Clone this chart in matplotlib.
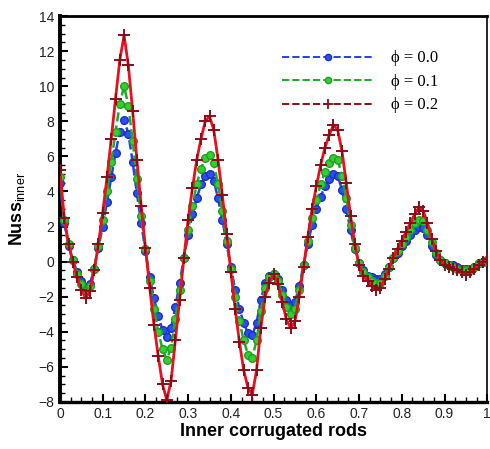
import numpy as np
import matplotlib.pyplot as plt
from matplotlib.ticker import MultipleLocator, AutoMinorLocator

plt.rcParams["font.family"] = ["Liberation Sans", "DejaVu Sans"]
plt.rcParams["mathtext.fontset"] = "custom"
plt.rcParams["mathtext.rm"] = "Liberation Sans"
plt.rcParams["mathtext.bf"] = "Liberation Sans:bold"

# position along the rods, step 0.01
x = [round(i * 0.01, 2) for i in range(101)]

nuss_00 = [4.5, 2.2, 0.9, 0.1, -0.6, -1.1, -1.5, -1.3, -0.4, 0.8,
           2.0, 3.4, 4.8, 6.2, 7.4, 8.1, 7.3, 5.7, 3.9, 2.2,
           0.6, -0.9, -2.1, -3.1, -3.9, -4.3, -3.8, -2.6, -1.2, 0.2,
           1.5, 2.7, 3.6, 4.4, 4.9, 5.0, 4.6, 3.6, 2.4, 1.0,
           -0.3, -1.6, -2.7, -3.5, -4.1, -4.2, -3.5, -2.2, -1.2, -0.8,
           -0.7, -1.0, -1.6, -2.2, -2.5, -2.3, -1.4, -0.2, 1.0, 2.1,
           3.0, 3.7, 4.3, 4.7, 5.0, 4.9, 4.1, 3.0, 1.8, 0.7,
           -0.1, -0.5, -0.8, -0.9, -1.0, -1.0, -0.7, -0.3, 0.2, 0.5,
           0.9, 1.2, 1.5, 1.8, 2.0, 1.9, 1.5, 0.9, 0.4, 0.1,
           -0.1, -0.2, -0.2, -0.3, -0.4, -0.4, -0.4, -0.3, -0.1, 0.0,
           0.1]

nuss_01 = [4.8, 2.4, 1.0, 0.1, -0.7, -1.3, -1.7, -1.4, -0.4, 0.9,
           2.4, 4.0, 5.7, 7.4, 9.0, 10.0, 8.9, 6.9, 4.7, 2.6,
           0.7, -1.1, -2.7, -4.0, -5.0, -5.6, -4.9, -3.3, -1.6, 0.2,
           1.8, 3.2, 4.4, 5.3, 5.9, 6.1, 5.6, 4.4, 2.9, 1.2,
           -0.4, -2.0, -3.4, -4.5, -5.3, -5.5, -4.5, -2.8, -1.5, -0.9,
           -0.7, -1.1, -1.9, -2.6, -3.0, -2.7, -1.6, -0.2, 1.2, 2.5,
           3.5, 4.4, 5.1, 5.6, 5.9, 5.8, 4.9, 3.6, 2.1, 0.8,
           -0.1, -0.6, -0.9, -1.1, -1.2, -1.2, -0.8, -0.3, 0.2, 0.6,
           1.0, 1.4, 1.8, 2.2, 2.4, 2.3, 1.8, 1.1, 0.5, 0.1,
           -0.1, -0.2, -0.3, -0.4, -0.5, -0.5, -0.5, -0.3, -0.1, 0.0,
           0.1]

nuss_02 = [5.2, 2.5, 1.0, 0.0, -0.9, -1.6, -2.1, -1.7, -0.5, 1.0,
           2.8, 4.8, 7.0, 9.3, 11.5, 12.9, 11.2, 8.6, 5.8, 3.2,
           0.8, -1.5, -3.6, -5.4, -7.0, -7.9, -6.8, -4.5, -2.2, 0.2,
           2.4, 4.2, 5.8, 7.0, 8.0, 8.3, 7.5, 5.8, 3.8, 1.6,
           -0.6, -2.7, -4.6, -6.2, -7.2, -7.6, -6.2, -3.8, -2.0, -1.2,
           -0.7, -1.3, -2.3, -3.3, -3.8, -3.4, -2.0, -0.3, 1.4, 3.0,
           4.3, 5.5, 6.5, 7.2, 7.8, 7.5, 6.3, 4.5, 2.6, 1.0,
           -0.2, -0.8, -1.1, -1.4, -1.6, -1.5, -1.0, -0.4, 0.2, 0.7,
           1.2, 1.7, 2.2, 2.7, 3.1, 2.9, 2.2, 1.3, 0.6, 0.1,
           -0.2, -0.3, -0.4, -0.5, -0.6, -0.75, -0.6, -0.4, -0.2, 0.0,
           0.15]

labels = ["\u03d5 = 0.0", "\u03d5 = 0.1", "\u03d5 = 0.2"]


def plotDraw():
    fig = plt.figure(figsize=(4.9, 4.49), dpi=100)
    ax = fig.add_axes([0.1224, 0.105, 0.872, 0.859])

    ax.plot(x, nuss_00, color="#2a3fe0", ls="--", lw=1.8, marker="o",
            ms=5.5, mfc="#2a50f0", mec="#1a30c0", zorder=3)
    ax.plot(x, nuss_01, color="#1faa2a", ls="--", lw=1.8, marker="o",
            ms=5.5, mfc="#30d030", mec="#20a020", zorder=4)
    ax.plot(x, nuss_02, color="#e8101e", ls="-", lw=2.0, marker="+",
            ms=8, mew=1.4, mec="#8a0d1a", zorder=5)

    # legend drawn with dashed lines and a single marker in the middle
    h0, = ax.plot([], [], color="#2a3fe0", ls="--", lw=1.4, marker="o",
                  ms=4.5, mfc="#2a50f0", mec="#1a30c0")
    h1, = ax.plot([], [], color="#1faa2a", ls="--", lw=1.4, marker="o",
                  ms=4.5, mfc="#30d030", mec="#20a020")
    h2, = ax.plot([], [], color="#8a0d1a", ls="--", lw=1.4, marker="+",
                  ms=7, mew=1.3, mec="#8a0d1a")
    ax.legend([h0, h1, h2], labels, loc="upper right",
              bbox_to_anchor=(0.92, 0.95), frameon=False, numpoints=1,
              handlelength=5.5, handletextpad=1.0, labelspacing=0.45,
              prop={"family": "Liberation Serif", "size": 12})

    ax.set_xlim(0, 1)
    ax.set_ylim(-8, 14)
    ax.xaxis.set_minor_locator(AutoMinorLocator(4))
    ax.yaxis.set_major_locator(MultipleLocator(2))
    ax.yaxis.set_minor_locator(AutoMinorLocator(4))
    ax.set_xticks(np.arange(0, 1.01, 0.1))
    ax.set_xticklabels(["0", "0.1", "0.2", "0.3", "0.4", "0.5", "0.6",
                        "0.7", "0.8", "0.9", "1"])

    ax.tick_params(which="both", direction="in", top=False, right=False,
                   labelsize=10, colors="black", labelcolor="#222222")
    ax.tick_params(which="major", length=6, width=1.5, pad=4)
    ax.tick_params(which="minor", length=3.5, width=1.0)

    ax.spines["left"].set_linewidth(2.8)
    ax.spines["bottom"].set_linewidth(2.4)
    ax.spines["top"].set_linewidth(2.0)
    ax.spines["right"].set_linewidth(1.2)

    ax.set_xlabel("Inner corrugated rods", fontsize=13, fontweight="bold",
                  labelpad=1)
    ax.set_ylabel(r"$\mathbf{Nuss}_{\mathrm{inner}}$", fontsize=13,
                  labelpad=8)

    fig.savefig("out.png", dpi=100)


if __name__ == "__main__":
    plotDraw()
